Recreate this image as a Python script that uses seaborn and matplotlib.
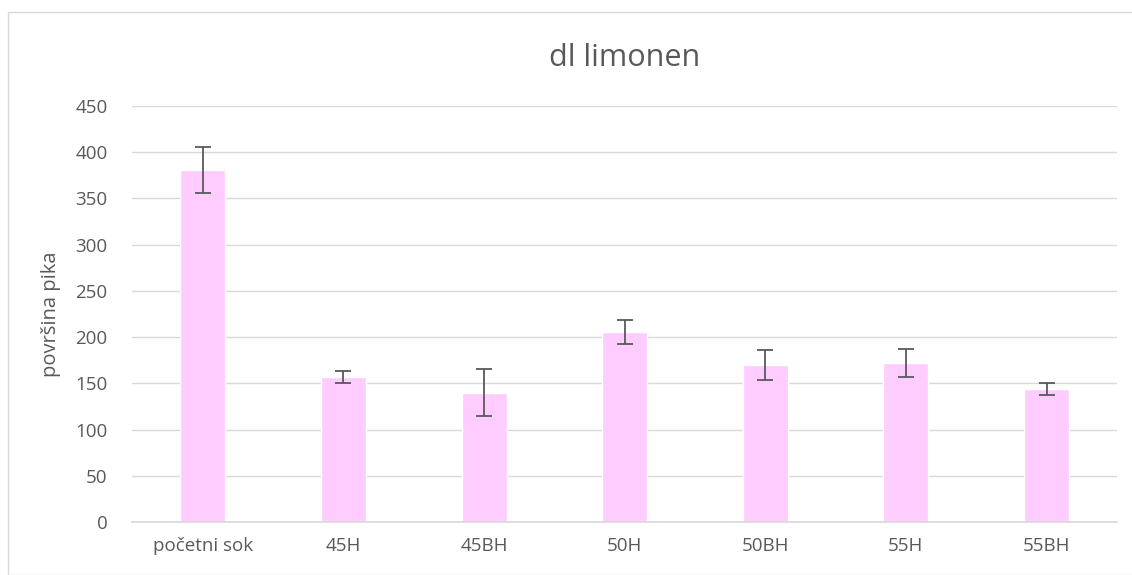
import pandas as pd
import seaborn as sns
from matplotlib import pyplot as plt
from matplotlib.patches import Rectangle

categories = ['početni sok', '45H', '45BH', '50H', '50BH', '55H', '55BH']
values = [381, 157, 140, 206, 170, 172, 144]
errors = [25, 6.3, 25.6, 13, 16.4, 15, 6.5]

df = pd.DataFrame({'uzorak': categories, 'povrsina': values})

sns.set_theme(style="white")
plt.rcParams['font.family'] = ['Open Sans', 'DejaVu Sans']
text_color = '#595959'

fig = plt.figure(figsize=(11.32, 5.75), dpi=100)
ax = fig.add_axes([0.117, 0.0922, 0.8696, 0.7235])

sns.barplot(data=df, x='uzorak', y='povrsina', color='#FFCCFF', saturation=1,
            width=0.32, errorbar=None, ax=ax)
ax.errorbar(range(len(categories)), values, yerr=errors, fmt='none',
            ecolor=text_color, elinewidth=1.3, capsize=6, capthick=1.3)

ax.set_ylim(0, 450)
ax.set_yticks(range(0, 451, 50))
ax.set_xlim(-0.5, len(categories) - 0.5)
ax.yaxis.grid(True, color='#d9d9d9', lw=1)
ax.set_axisbelow(True)
for s in ['top', 'right', 'left']:
    ax.spines[s].set_visible(False)
ax.spines['bottom'].set_color('#d9d9d9')
ax.tick_params(axis='both', length=0, labelsize=13.5, labelcolor=text_color)
ax.tick_params(axis='y', pad=18)
ax.tick_params(axis='x', pad=11)
ax.set_xlabel('')
ax.set_ylabel('površina pika', fontsize=14.5, color=text_color, labelpad=10)
ax.set_title('dl limonen', fontsize=22, color=text_color, pad=29)

fig.patches.append(Rectangle((8 / 1132, 0), 1, 1 - 12 / 575, transform=fig.transFigure,
                             fill=False, edgecolor='#d9d9d9', lw=1))

fig.savefig('out.png', dpi=100)
